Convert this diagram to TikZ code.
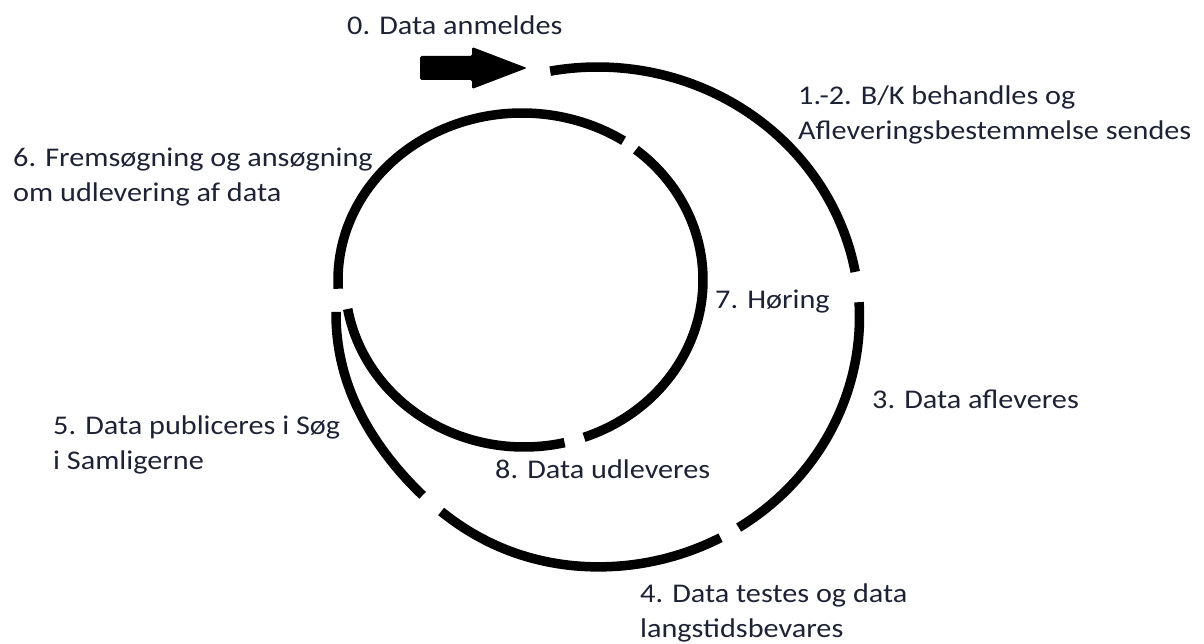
\documentclass[tikz,border=0pt]{standalone}
\usepackage{fontspec}
\setmainfont{Carlito}[FakeStretch=1.12]
\definecolor{txt}{HTML}{1E2235}
\begin{document}
\begin{tikzpicture}[x=1pt,y=-1pt,
  declare function={fo(\t)=1-0.025*exp(-((\t-140)/25)*((\t-140)/25));},
  lbl/.style={anchor=base west, inner sep=0pt, text=txt, font=\fontsize{27}{35}\selectfont, align=left},
  seg/.style={line width=9.5pt, draw=black}]
\useasboundingbox (0,0) rectangle (1204,644);
% start arrow
\fill[black, rounded corners=1.5pt] (420,56) -- (472,56) -- (472,47) -- (527,68) -- (472,89) -- (472,80) -- (420,80) -- cycle;
% outer spiral turn
\draw[seg] plot[domain=-100.4:-10.4, samples=80, variable=\t] ({597.5+262*cos(\t)},{317+250*sin(\t)});
\draw[seg] plot[domain=-3.4:57.4, samples=60, variable=\t] ({597.5+262*cos(\t)},{317+250*sin(\t)});
\draw[seg] plot[domain=62:127.5, samples=60, variable=\t] ({597.5+262*fo(\t)*cos(\t)},{317+250*fo(\t)*sin(\t)});
\draw[seg] plot[domain=133.1:181.2, samples=50, variable=\t] ({597.5+262*fo(\t)*cos(\t)},{317+250*fo(\t)*sin(\t)});
% inner turn
\draw[seg] plot[domain=177:303.5, samples=90, variable=\t] ({522+184*cos(\t)},{280+167*sin(\t)});
\draw[seg] plot[domain=308.7:430.4, samples=90, variable=\t] ({524+179*cos(\t)},{280+167*sin(\t)});
\draw[seg] plot[domain=436.9:530, samples=70, variable=\t] ({524+179*cos(\t)},{280+167*sin(\t)});
% labels (base anchor = baseline of last line)
\node[lbl] (l0) at (347,35) {0. Data anmeldes};
\node[lbl] (l12) at (798,140) {1.-2. B/K behandles og\\Afleveringsbestemmelse sendes};
\node[lbl] (l6) at (13,202) {6. Fremsøgning og ansøgning\\om udlevering af data};
\node[lbl] (l7) at (715,308) {7. Høring};
\node[lbl] (l3) at (872,408) {3. Data afleveres};
\node[lbl] (l5) at (53,469) {5. Data publiceres i Søg\\i Samligerne};
\node[lbl] (l8) at (495,478) {8. Data udleveres};
\node[lbl] (l4) at (640,637) {4. Data testes og data\\langstidsbevares};
\end{tikzpicture}
\end{document}
